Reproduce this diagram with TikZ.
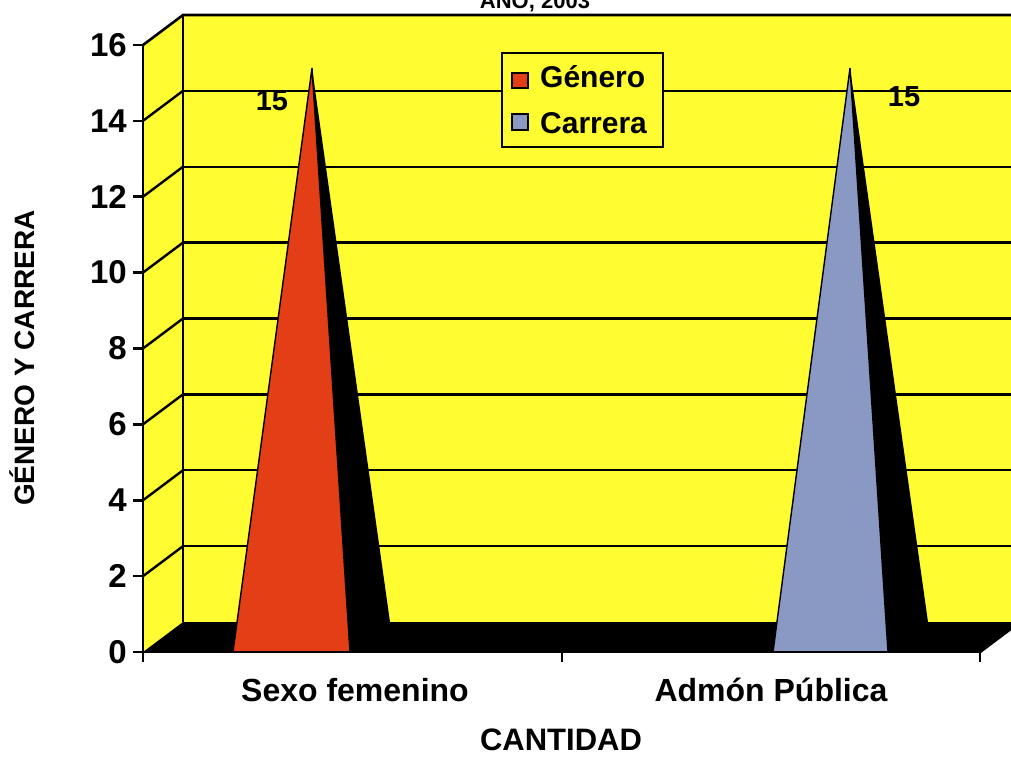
\documentclass[tikz,border=0pt]{standalone}
\usepackage{fontspec}
\setmainfont{Liberation Sans}
\definecolor{wallyellow}{RGB}{255,252,50}
\definecolor{barred}{RGB}{228,62,22}
\definecolor{barblue}{RGB}{138,152,196}
\begin{document}
\begin{tikzpicture}[x=1pt,y=-1pt,
  grid/.style={black,line width=2.4pt},
  edge/.style={black,line width=2.6pt},
  lbl/.style={font=\fontsize{32}{36}\selectfont\bfseries,inner sep=0pt},
  ticklbl/.style={font=\fontsize{33}{36}\selectfont\bfseries,inner sep=0pt,anchor=east},
  vallbl/.style={font=\fontsize{29}{32}\selectfont\bfseries,inner sep=0pt},
  legtext/.style={font=\fontsize{30}{34}\selectfont\bfseries,inner sep=0pt,anchor=base west}]
\useasboundingbox (0,0) rectangle (1011,756);
\clip (0,0) rectangle (1011,756);
\fill[white] (0,0) rectangle (1011,756);
% title (cut at top, as in the reference)
\node[font=\fontsize{22}{26}\selectfont\bfseries,inner sep=0pt,anchor=base] (title) at (535,8) {AÑO, 2003};
% back wall
\fill[wallyellow] (183,15) rectangle (1040,622);
\foreach \v in {2,4,...,14} {
  \draw[grid] (183,{622-37.94*\v}) -- (1040,{622-37.94*\v});
}
% left wall
\fill[wallyellow] (143,45) -- (183,15) -- (183,622) -- (143,652) -- cycle;
\foreach \v in {2,4,...,14} {
  \draw[grid] (143,{652-37.94*\v}) -- (183,{622-37.94*\v});
}
\draw[edge] (143,45) -- (183,15) -- (1040,15);
\draw[edge] (183,15) -- (183,622);
% floor
\fill[black] (143,652) -- (183,622) -- (1020,622) -- (980,652) -- cycle;
% pyramid Género
\fill[black] (312,68) -- (350,652) -- (390,622) -- cycle;
\filldraw[fill=barred,draw=black,line width=1.4pt] (312,68) -- (233,652) -- (350,652) -- cycle;
\node[vallbl] (v1) at (272,101) {15};
% pyramid Carrera
\fill[black] (850,68) -- (888,652) -- (928,622) -- cycle;
\filldraw[fill=barblue,draw=black,line width=1.4pt] (850,68) -- (773,652) -- (888,652) -- cycle;
\node[vallbl] (v2) at (904,97) {15};
% legend
\filldraw[fill=wallyellow,draw=black,line width=2.4pt] (502,53) rectangle (663,147);
\filldraw[fill=barred,draw=black,line width=1.6pt] (512,73) rectangle (528,88);
\filldraw[fill=barblue,draw=black,line width=1.6pt] (512,114) rectangle (528,130);
\node[legtext] (lg1) at (540,87) {Género};
\node[legtext] (lg2) at (540,133) {Carrera};
% axes
\draw[edge] (143,45) -- (143,652) -- (980,652);
\draw[edge] (980,652) -- (1020,622);
\foreach \v in {0,2,...,16} {
  \draw[edge] (133,{652-37.94*\v}) -- (143,{652-37.94*\v});
  \node[ticklbl] at (127,{652-37.94*\v}) {\v};
}
\foreach \x in {143,562,980} {
  \draw[edge] (\x,652) -- (\x,662);
}
% axis labels
\node[lbl] (c1) at (355,690) {Sexo femenino};
\node[lbl] (c2) at (771,690) {Admón Pública};
\node[lbl,font=\fontsize{31}{34}\selectfont\bfseries] (xt) at (561,740) {CANTIDAD};
\node[lbl,rotate=90,font=\fontsize{28}{31}\selectfont\bfseries] (yt) at (22,358) {GÉNERO Y CARRERA};
\end{tikzpicture}
\end{document}
